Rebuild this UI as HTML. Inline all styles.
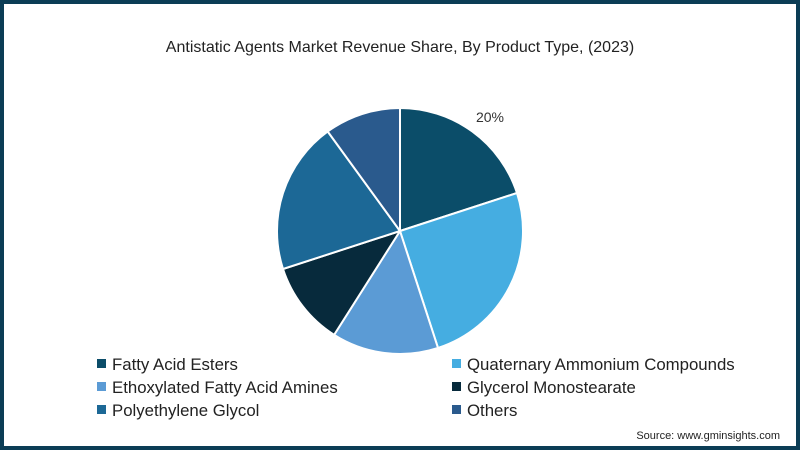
<!DOCTYPE html>
<html><head><meta charset="utf-8"><style>
body{margin:0;width:800px;height:450px;overflow:hidden;font-family:"Liberation Sans",sans-serif;}
#frame{position:absolute;left:0;top:0;width:792px;height:442px;border:4px solid #0b3d55;background:#fff;}
</style></head><body>
<div id="frame"></div>
<svg width="800" height="450" style="position:absolute;left:0;top:0">
<text x="400" y="52" text-anchor="middle" font-size="16" fill="#222">Antistatic Agents Market Revenue Share, By Product Type, (2023)</text>
<g id="pie"></g>
<text x="490" y="122" text-anchor="middle" font-size="14" fill="#333">20%</text>
<g id="legend"></g>
<text x="780" y="439" text-anchor="end" font-size="11" fill="#222">Source: www.gminsights.com</text>
</svg>
<script>
const categories=["Fatty Acid Esters","Quaternary Ammonium Compounds","Ethoxylated Fatty Acid Amines","Glycerol Monostearate","Polyethylene Glycol","Others"];
const values=[20,25,14,11,20,10];
const colors=["#0b4d69","#45ade1","#5b9bd5","#072a3c","#1c6896","#2a5a8d"];
const ns="http://www.w3.org/2000/svg";
const cx=400,cy=231,r=123;
const total=values.reduce((a,b)=>a+b,0);
const pie=document.getElementById('pie');
let acc=0;
function pt(f){const a=f*2*Math.PI;return [cx+r*Math.sin(a),cy-r*Math.cos(a)];}
values.forEach((v,i)=>{
  const f0=acc/total,f1=(acc+v)/total;acc+=v;
  const [x0,y0]=pt(f0),[x1,y1]=pt(f1);
  const p=document.createElementNS(ns,'path');
  p.setAttribute('d',`M${cx},${cy}L${x0},${y0}A${r},${r} 0 ${f1-f0>0.5?1:0} 1 ${x1},${y1}Z`);
  p.setAttribute('fill',colors[i]);p.setAttribute('stroke','#fff');p.setAttribute('stroke-width','2');
  
  
  pie.appendChild(p);
});
const lg=document.getElementById('legend');
categories.forEach((c,i)=>{
  const col=i%2,row=Math.floor(i/2);
  const x=col?452:97,y=364+row*23;
  const g=document.createElementNS(ns,'g');
  
  
  const s=document.createElementNS(ns,'rect');
  s.setAttribute('x',x);s.setAttribute('y',y-5);s.setAttribute('width',9);s.setAttribute('height',9);s.setAttribute('fill',colors[i]);
  const t=document.createElementNS(ns,'text');
  t.setAttribute('x',x+15);t.setAttribute('y',y+6);t.setAttribute('font-size','16.8');t.setAttribute('fill','#222');
  t.textContent=c;
  g.appendChild(s);g.appendChild(t);lg.appendChild(g);
});
</script>
</body></html>
